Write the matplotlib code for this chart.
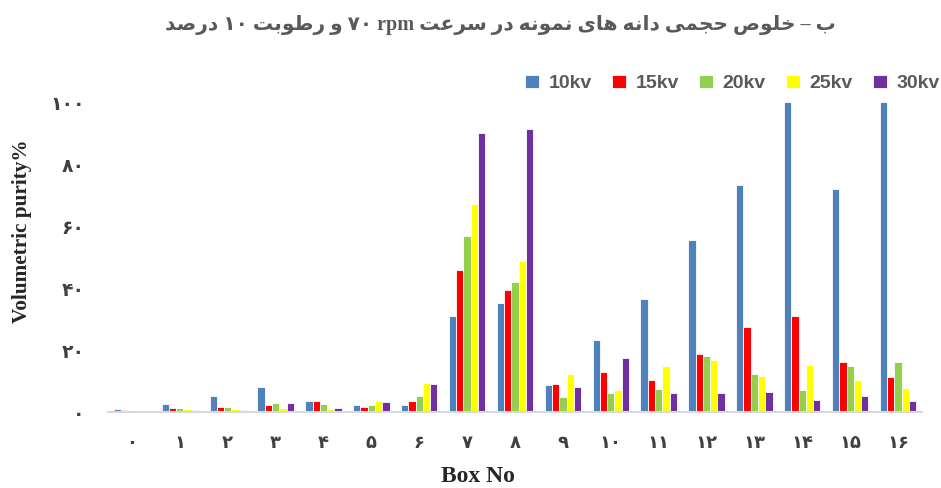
import matplotlib
matplotlib.use("Agg")
import matplotlib.pyplot as plt
import numpy as np

# ---------------- data ----------------
boxes = ["۰", "۱", "۲", "۳", "۴", "۵", "۶", "۷", "۸", "۹", "۱۰", "۱۱", "۱۲", "۱۳", "۱۴", "۱۵", "۱۶"]
series_names = ["10kv", "15kv", "20kv", "25kv", "30kv"]
kv10 = [0.9, 2.5, 5.3, 8.0, 3.5, 2.1, 2.3, 31.0, 35.2, 8.7, 23.2, 36.4, 55.4, 73.1, 100.0, 72.0, 100.0]
kv15 = [0.6, 1.4, 1.6, 2.1, 3.7, 1.5, 3.7, 45.9, 39.2, 9.1, 12.8, 10.3, 18.6, 27.3, 31.0, 16.0, 11.2]
kv20 = [0.0, 1.4, 1.7, 2.8, 2.7, 2.4, 5.1, 56.8, 41.9, 4.8, 6.0, 7.3, 18.0, 12.4, 7.0, 14.9, 16.0]
kv25 = [0.0, 0.9, 0.9, 1.4, 1.0, 3.7, 9.4, 67.1, 48.7, 12.1, 7.0, 14.8, 16.9, 11.6, 15.1, 10.3, 7.8]
kv30 = [0.0, 0.6, 0.6, 2.8, 1.2, 3.1, 9.0, 90.0, 91.2, 8.1, 17.4, 6.1, 6.1, 6.5, 3.8, 5.3, 3.6]
yticks = [0, 20, 40, 60, 80, 100]
ytick_labels = ["۰", "۲۰", "۴۰", "۶۰", "۸۰", "۱۰۰"]
# words in right-to-left reading order
title_logical = "ب – خلوص حجمی دانه های نمونه در سرعت rpm ۷۰ و رطوبت ۱۰ درصد"
ylabel = "Volumetric purity%"
xlabel = "Box No"

colors = ["#4F81BD", "#FF0000", "#92D050", "#FFFF00", "#7030A0"]

# ---------------- minimal Persian shaping (presentation forms) ----------------
FORMS = {  # isolated, final, initial, medial
    "ا": ("\uFE8D", "\uFE8E", None, None),
    "ب": ("\uFE8F", "\uFE90", "\uFE91", "\uFE92"),
    "ت": ("\uFE95", "\uFE96", "\uFE97", "\uFE98"),
    "ج": ("\uFE9D", "\uFE9E", "\uFE9F", "\uFEA0"),
    "ح": ("\uFEA1", "\uFEA2", "\uFEA3", "\uFEA4"),
    "خ": ("\uFEA5", "\uFEA6", "\uFEA7", "\uFEA8"),
    "د": ("\uFEA9", "\uFEAA", None, None),
    "ر": ("\uFEAD", "\uFEAE", None, None),
    "س": ("\uFEB1", "\uFEB2", "\uFEB3", "\uFEB4"),
    "ص": ("\uFEB9", "\uFEBA", "\uFEBB", "\uFEBC"),
    "ط": ("\uFEC1", "\uFEC2", "\uFEC3", "\uFEC4"),
    "ع": ("\uFEC9", "\uFECA", "\uFECB", "\uFECC"),
    "ل": ("\uFEDD", "\uFEDE", "\uFEDF", "\uFEE0"),
    "م": ("\uFEE1", "\uFEE2", "\uFEE3", "\uFEE4"),
    "ن": ("\uFEE5", "\uFEE6", "\uFEE7", "\uFEE8"),
    "ه": ("\uFEE9", "\uFEEA", "\uFEEB", "\uFEEC"),
    "و": ("\uFEED", "\uFEEE", None, None),
    "ی": ("\uFEEF", "\uFEF0", "\uFEF3", "\uFEF4"),
}


def shape_word(w):
    if not any(c in FORMS for c in w):
        return w
    out = []
    n = len(w)
    for i, c in enumerate(w):
        if c not in FORMS:
            out.append(c)
            continue
        prev_joins = i > 0 and w[i - 1] in FORMS and FORMS[w[i - 1]][2] is not None
        next_joins = i < n - 1 and w[i + 1] in FORMS and FORMS[c][2] is not None
        iso, fin, ini, med = FORMS[c]
        if prev_joins and next_joins:
            out.append(med)
        elif prev_joins:
            out.append(fin)
        elif next_joins:
            out.append(ini)
        else:
            out.append(iso)
    return "".join(reversed(out))


def visual_rtl(text):
    words = text.split(" ")
    shaped = [shape_word(w) for w in words]
    return " ".join(reversed(shaped))


# ---------------- figure ----------------
fig = plt.figure(figsize=(9.41, 4.88), dpi=100)
ax = fig.add_axes([108 / 941, 1 - 412 / 488, (922 - 108) / 941, (412 - 102) / 488])

x = np.arange(len(boxes))
width = 0.152
all_series = [kv10, kv15, kv20, kv25, kv30]
for i, (name, vals, col) in enumerate(zip(series_names, all_series, colors)):
    ax.bar(x + (i - 2) * width, vals, width, color=col, edgecolor="white",
           linewidth=0.6, label=name, zorder=2)

ax.set_xlim(-0.5, len(boxes) - 0.5)
ax.set_ylim(0, 100)
ax.set_yticks(yticks)
ax.set_yticklabels(ytick_labels, fontfamily="DejaVu Sans", fontweight="bold",
                   fontsize=13.5, color="#404040")
ax.set_xticks(x)
ax.set_xticklabels(boxes, fontfamily="DejaVu Sans", fontweight="bold",
                   fontsize=13, color="#404040")
ax.tick_params(axis="both", length=0)
ax.tick_params(axis="y", pad=17)
ax.tick_params(axis="x", pad=16)

for s in ["top", "right", "left"]:
    ax.spines[s].set_visible(False)
ax.spines["bottom"].set_color("#D9D9D9")
ax.spines["bottom"].set_linewidth(1.5)

ax.set_ylabel(ylabel, fontfamily="Liberation Serif", fontweight="bold",
              fontsize=15.3, color="#262626")
ax.yaxis.set_label_coords(-0.0934, 0.584)
ax.set_xlabel(xlabel, fontfamily="Liberation Serif", fontweight="bold",
              fontsize=17, color="#262626")
ax.xaxis.set_label_coords(0.4545, -0.175)

leg = ax.legend(loc="center right", bbox_to_anchor=(1.043, 1.06), ncol=5,
                frameon=False, handlelength=0.7, handleheight=0.7,
                handletextpad=0.5, columnspacing=1.05,
                prop={"family": "Liberation Sans", "weight": "bold", "size": 14})
for t in leg.get_texts():
    t.set_color("#595959")

fig.text(500 / 941, 1 - 25 / 488, visual_rtl(title_logical),
         ha="center", va="center", fontsize=14.5, fontweight="bold",
         color="#595959", family=["Liberation Serif", "DejaVu Sans"])

fig.savefig("out.png", dpi=100)
